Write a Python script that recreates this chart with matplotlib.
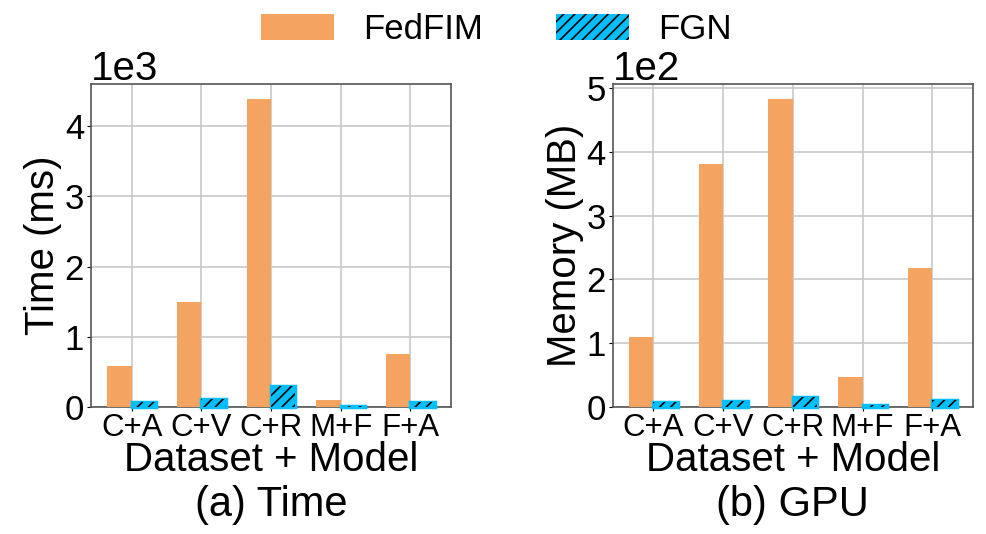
import numpy as np
import matplotlib
matplotlib.use("Agg")
import matplotlib.pyplot as plt
from matplotlib.ticker import ScalarFormatter

plt.rcParams['font.family'] = ['Liberation Sans', 'DejaVu Sans']
plt.rcParams['hatch.linewidth'] = 1.2

# data
labels = ['C+A', 'C+V', 'C+R', 'M+F', 'F+A']
time_fedfim = [577, 1496, 4380, 100, 757]
time_fgn = [65, 108, 305, 20, 75]
mem_fedfim = [110, 381, 482, 47, 218]
mem_fgn = [8, 10, 16, 3, 11]

orange = '#F4A460'
blue = '#00BFFF'
w = 0.35

fig = plt.figure(figsize=(9.87, 5.34), dpi=100)
ax1 = fig.add_axes([0.0922, 0.2378, 0.3647, 0.605])
ax2 = fig.add_axes([0.6208, 0.2378, 0.3650, 0.605])

x = np.arange(len(labels))


def draw(ax, a, b, ylabel, sub):
    ax.bar(x - w / 2, a, w, color=orange, zorder=3, label='FedFIM')
    # blue bars have a thick edge of the same colour, hatch on top
    ax.bar(x + w / 2, b, w, color=blue, edgecolor=blue, linewidth=2.5,
           zorder=3, clip_on=False)
    ax.bar(x + w / 2, b, w, facecolor=blue, edgecolor='black', linewidth=0,
           hatch='///', zorder=4, clip_on=False, label='FGN')
    ax.set_xticks(x)
    ax.set_xticklabels(labels)
    ax.tick_params(axis='y', labelsize=25, length=3, pad=2)
    ax.tick_params(axis='x', labelsize=22.5, length=3, pad=1)
    ax.grid(True, color='#c8c8c8', linewidth=1.2, zorder=0)
    ax.set_axisbelow(True)
    for s in ax.spines.values():
        s.set_color('#555555')
        s.set_linewidth(1.2)
    fmt = ScalarFormatter(useMathText=False)
    fmt.set_powerlimits((0, 0))
    ax.yaxis.set_major_formatter(fmt)
    ax.yaxis.get_offset_text().set_fontsize(29)
    ax.set_ylabel(ylabel, fontsize=29, labelpad=2)
    ax.set_xlabel('Dataset + Model', fontsize=29, labelpad=-1)
    pos = ax.get_position()
    fig.text(pos.x0 + pos.width / 2, 0.055, sub, fontsize=30,
             ha='center', va='center')


draw(ax1, time_fedfim, time_fgn, 'Time (ms)', '(a) Time')
draw(ax2, mem_fedfim, mem_fgn, 'Memory (MB)', '(b) GPU')
ax1.set_yticks([0, 1000, 2000, 3000, 4000])
ax2.set_yticks([0, 100, 200, 300, 400, 500])

h, l = ax1.get_legend_handles_labels()
fig.legend(h, l, loc='center', bbox_to_anchor=(0.503, 0.945),
           ncol=2, frameon=False, fontsize=25, handlelength=2.1,
           handleheight=0.8, handletextpad=0.85, columnspacing=2.1)

fig.savefig('out.png', dpi=100)
